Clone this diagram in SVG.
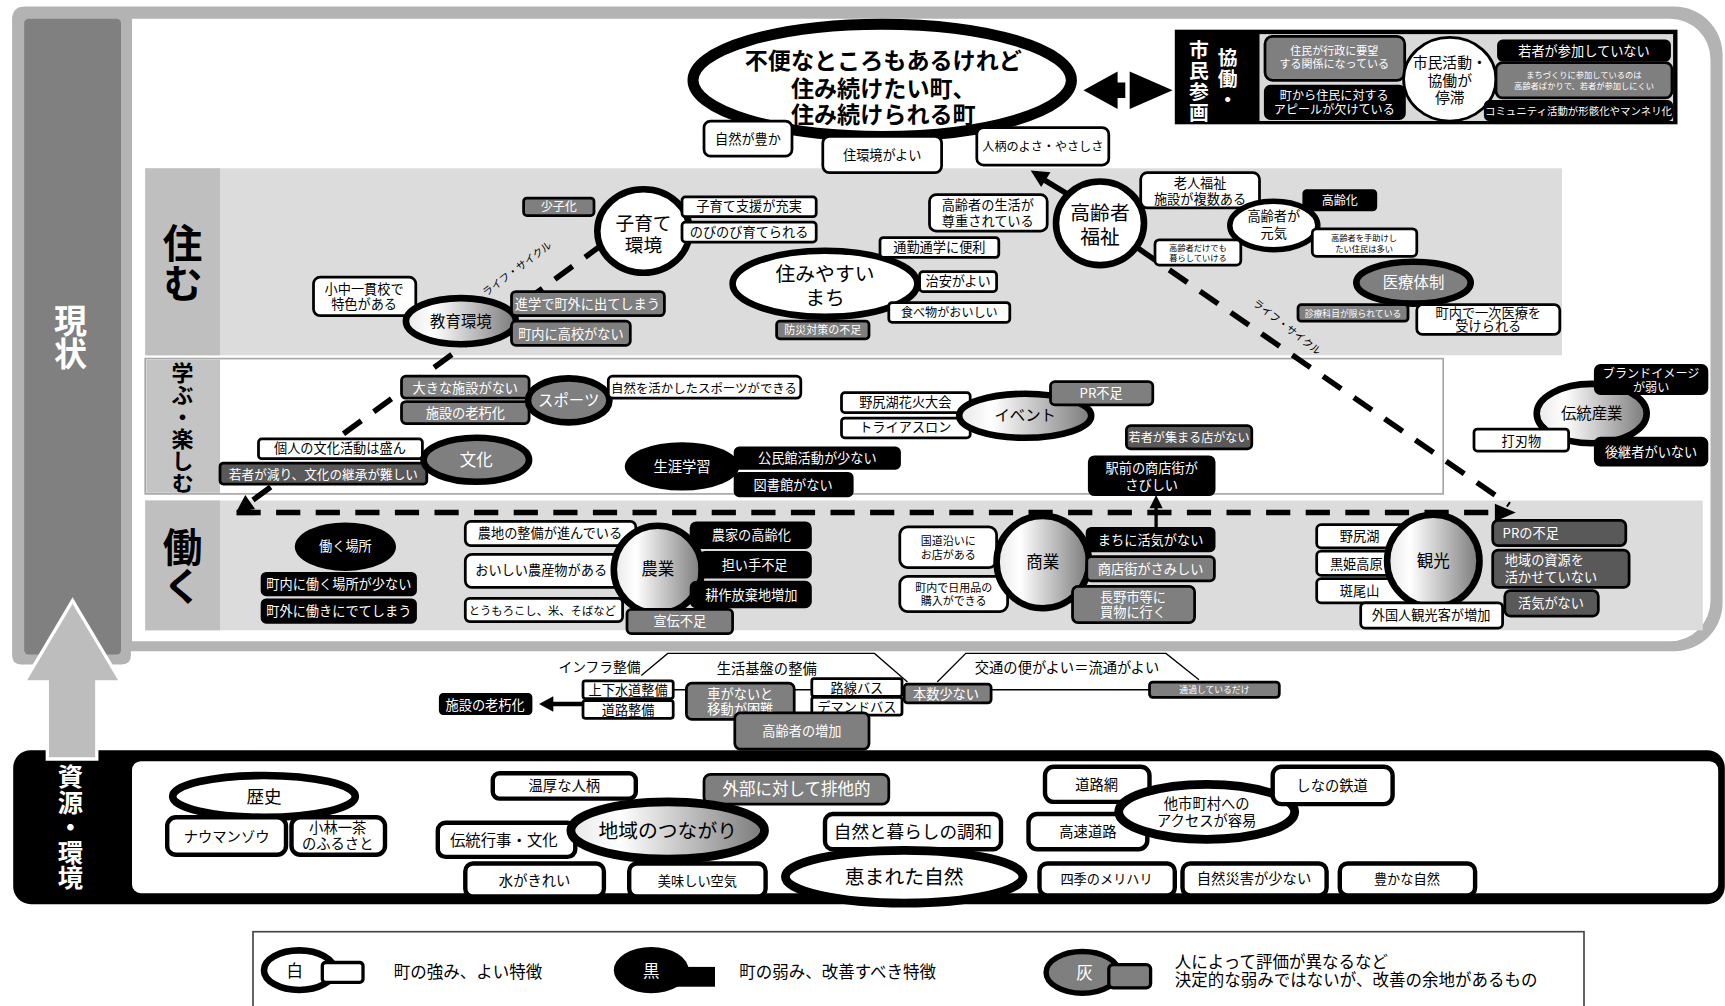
<svg xmlns="http://www.w3.org/2000/svg" width="1725" height="1006" viewBox="0 0 1725 1006">
<defs>
<style>
text{font-family:"Noto Sans CJK JP","Noto Sans",sans-serif;}
.w{fill:#fff;stroke:#000;stroke-width:2.5}
.w4{fill:#fff;stroke:#000;stroke-width:4}
.k{fill:#000;stroke:#000;stroke-width:2}
.g{fill:#7f7f7f;stroke:#000;stroke-width:2.5}
.d{fill:#595959;stroke:#000;stroke-width:2.5}
.t{fill:#000;text-anchor:middle}
.tw{fill:#fff;text-anchor:middle}
.twl{fill:#fff;text-anchor:start}
.ew{fill:#fff;stroke:#000;stroke-width:6}
.eg{fill:url(#grad);stroke:#000;stroke-width:6}
.eG{fill:#7f7f7f;stroke:#000;stroke-width:6}
.b{font-weight:bold}
.v{writing-mode:vertical-rl;text-anchor:middle}
.dash{fill:none;stroke:#000;stroke-width:5;stroke-dasharray:20 14}
</style>
<linearGradient id="grad" x1="0" y1="0" x2="1" y2="0">
<stop offset="0" stop-color="#e8e8e8"/>
<stop offset="0.25" stop-color="#ffffff"/>
<stop offset="1" stop-color="#7a7a7a"/>
</linearGradient>
</defs>
<rect width="1725" height="1006" fill="#fff"/>
<g transform="scale(1.1)">
<g id="frame">
<path d="M23,6 H1522 A44,44 0 0 1 1566,50 V548 A44,44 0 0 1 1522,592 H119 V596 Q119,604 111,604 H19 Q11,604 11,596 V18 Q11,6 23,6 Z" fill="#b3b3b3"/>
<rect x="22" y="17" width="88" height="578" rx="4" fill="#808080"/>
<path d="M120,17 H1518 A37,37 0 0 1 1555,54 V546 A37,37 0 0 1 1518,583 H120 Z" fill="#fff"/>
<text x="64" y="306" font-size="30" class="v b" fill="#fff">現状</text>
</g>
<g id="rows">
<rect x="132" y="153" width="1288" height="170" fill="#dcdcdc"/>
<rect x="132" y="153" width="68" height="170" fill="#bfbfbf"/>
<text x="166" y="239" font-size="36" class="v b" fill="#000">住む</text>
<rect x="132" y="326" width="1180" height="123" fill="#fff" stroke="#a6a6a6" stroke-width="1.5"/>
<rect x="133" y="327" width="67" height="121" fill="#c4c4c4"/>
<text x="166" y="389" font-size="20" class="v b" fill="#000">学ぶ・楽しむ</text>
<rect x="132" y="455" width="1416" height="118" fill="#dcdcdc"/>
<rect x="132" y="455" width="68" height="118" fill="#bfbfbf"/>
<text x="166" y="515" font-size="36" class="v b" fill="#000">働く</text>
</g>
<g id="resources-frame">
<rect x="12" y="682" width="1556" height="140" rx="16" fill="#000"/>
<rect x="120" y="692" width="1442" height="120" rx="8" fill="#fff"/>
<text x="64" y="752" font-size="23" class="v b" fill="#fff">資源・環境</text>
</g>
<g id="big-arrow">
<polygon points="66,546 110,620 88,620 88,690 43,690 43,620 22,620" fill="#bdbdbd" stroke="#fff" stroke-width="3"/>
</g>

<g id="connectors">
<line x1="548" y1="222" x2="228" y2="456" class="dash"/>
<polygon points="215,465 232,463 223,450" fill="#000"/>
<line x1="215" y1="466" x2="1362" y2="466" stroke="#000" stroke-width="5" stroke-dasharray="22 14"/>
<polygon points="1378,466 1359,458 1359,474" fill="#000"/>
<line x1="1035" y1="226" x2="1372" y2="459" class="dash"/>
<line x1="978" y1="181" x2="950" y2="164" stroke="#000" stroke-width="5"/>
<polygon points="937,155 955,156.5 946.5,170" fill="#000"/>
<line x1="1051" y1="481" x2="1051" y2="460" stroke="#000" stroke-width="3"/>
<polygon points="1051,450 1045,462 1057,462" fill="#000"/>
<line x1="530" y1="640" x2="500" y2="640" stroke="#000" stroke-width="4"/>
<polygon points="490,640 503,633 503,647" fill="#000"/>
<polygon points="985,82 1016,65 1016,75 1023,75 1023,89 1016,89 1016,99" fill="#000"/>
<polygon points="1066,82 1027,65 1027,99" fill="#000"/>
<polyline points="583,614 607,594 795,594 825,620" fill="none" stroke="#000" stroke-width="1.2"/>
<polyline points="852,620 878,594 1060,594 1090,618" fill="none" stroke="#000" stroke-width="1.2"/>
<line x1="612" y1="627" x2="1045" y2="627" stroke="#000" stroke-width="1.5"/>
<text transform="translate(472,247) rotate(-37)" font-size="9.5" class="t">ライフ・サイクル</text>
<text transform="translate(1168,300) rotate(38)" font-size="9.5" class="t">ライフ・サイクル</text>
</g>

<g id="goal">
<ellipse cx="802" cy="73" rx="172" ry="51" fill="#fff" stroke="#000" stroke-width="10"/>
<text x="803" y="63" font-size="21" class="t b">不便なところもあるけれど<tspan x="803" dy="25">住み続けたい町、</tspan><tspan x="803" dy="24">住み続けられる町</tspan></text>
</g>
<g id="goal-1"><rect x="640" y="110" width="80" height="32" rx="6" class="w" stroke-width="3"/><text x="680" y="131" font-size="12" class="t">自然が豊か</text></g>
<g id="goal-2"><rect x="748" y="124" width="108" height="33" rx="6" class="w" stroke-width="3"/><text x="802" y="145" font-size="12" class="t">住環境がよい</text></g>
<g id="goal-3"><rect x="888" y="116" width="120" height="34" rx="6" class="w" stroke-width="3"/><text x="948" y="137" font-size="11" class="t">人柄のよさ・やさしさ</text></g>

<g id="participation">
<rect x="1068" y="27" width="457" height="86" fill="#000"/>
<rect x="1145" y="31" width="376" height="79" fill="#d9d9d9"/>
<text x="1090" y="74" font-size="18" class="v b" fill="#fff" letter-spacing="1">市民参画</text>
<text x="1116" y="72" font-size="18" class="v b" fill="#fff" letter-spacing="1">協働・</text>
</g>
<g id="p1"><rect x="1150" y="33" width="127" height="40" rx="7" class="g" stroke-width="2"/><text x="1213" y="50" font-size="10" class="tw">住民が行政に要望<tspan x="1213" dy="12">する関係になっている</tspan></text></g>
<g id="p2"><rect x="1150" y="78" width="127" height="30" rx="5" class="k"/><text x="1213" y="91" font-size="11" class="tw">町から住民に対する<tspan x="1213" dy="13">アピールが欠けている</tspan></text></g>
<g id="p3"><ellipse cx="1318" cy="72" rx="42" ry="38" fill="#fff" stroke="#000" stroke-width="2.5"/><text x="1318" y="62" font-size="13.5" class="t">市民活動・<tspan x="1318" dy="16">協働が</tspan><tspan x="1318" dy="16">停滞</tspan></text></g>
<g id="p4"><rect x="1362" y="37" width="156" height="18" rx="4" class="k"/><text x="1440" y="51" font-size="12" class="tw">若者が参加していない</text></g>
<g id="p5"><rect x="1360" y="57" width="160" height="32" rx="6" class="g" stroke-width="2"/><text x="1440" y="71" font-size="7.5" class="tw">まちづくりに参加しているのは<tspan x="1440" dy="10">高齢者ばかりで、若者が参加しにくい</tspan></text></g>
<g id="p6"><rect x="1350" y="92" width="170" height="17" rx="4" class="k"/><text x="1435" y="104.5" font-size="9.5" class="tw">コミュニティ活動が形骸化やマンネリ化</text></g>

<g id="n-shoushika"><rect x="476" y="180" width="64" height="16" rx="3" class="g" stroke-width="2"/><text x="508" y="192" font-size="11" class="tw">少子化</text></g>
<g id="n-kosodate"><ellipse cx="585" cy="210" rx="42" ry="38" class="ew"/><text x="585" y="209" font-size="17" class="t">子育て<tspan x="585" dy="20">環境</tspan></text></g>
<g id="n-kosodate1"><rect x="620" y="179" width="122" height="18" rx="3" class="w"/><text x="681" y="192" font-size="12" class="t">子育て支援が充実</text></g>
<g id="n-kosodate2"><rect x="620" y="202" width="122" height="18" rx="3" class="w"/><text x="681" y="215" font-size="12" class="t">のびのび育てられる</text></g>
<g id="n-shochu"><rect x="285" y="252" width="93" height="35" rx="6" class="w"/><text x="331" y="267" font-size="12" class="t">小中一貫校で<tspan x="331" dy="14">特色がある</tspan></text></g>
<g id="n-kyoiku"><ellipse cx="419" cy="292" rx="50" ry="21" class="eg"/><text x="419" y="297" font-size="14" class="t">教育環境</text></g>
<g id="n-shingaku"><rect x="465" y="265" width="139" height="22" rx="4" class="g"/><text x="534" y="281" font-size="12" class="tw">進学で町外に出てしまう</text></g>
<g id="n-koukou"><rect x="465" y="292" width="108" height="22" rx="4" class="g"/><text x="519" y="308" font-size="12" class="tw">町内に高校がない</text></g>
<g id="n-sumiyasui"><ellipse cx="750" cy="258" rx="84" ry="30" class="ew"/><text x="750" y="255" font-size="18" class="t">住みやすい<tspan x="750" dy="22">まち</tspan></text></g>
<g id="n-tsukin"><rect x="800" y="216" width="108" height="18" rx="3" class="w"/><text x="854" y="229" font-size="12" class="t">通勤通学に便利</text></g>
<g id="n-chian"><rect x="836" y="247" width="70" height="18" rx="3" class="w"/><text x="871" y="260" font-size="12" class="t">治安がよい</text></g>
<g id="n-tabemono"><rect x="808" y="275" width="110" height="18" rx="3" class="w"/><text x="863" y="288" font-size="11" class="t">食べ物がおいしい</text></g>
<g id="n-bousai"><rect x="706" y="292" width="84" height="16" rx="3" class="g" stroke-width="2"/><text x="748" y="304" font-size="10" class="tw">防災対策の不足</text></g>
<g id="n-seikatsu"><rect x="845" y="177" width="107" height="33" rx="6" class="w"/><text x="898" y="191" font-size="12" class="t">高齢者の生活が<tspan x="898" dy="14">尊重されている</tspan></text></g>
<g id="n-fukushi"><ellipse cx="1000" cy="203" rx="40" ry="38" class="ew"/><text x="1000" y="200" font-size="18" class="t">高齢者<tspan x="1000" dy="22">福祉</tspan></text></g>
<g id="n-roujin"><rect x="1037" y="157" width="108" height="32" rx="6" class="w"/><text x="1091" y="171" font-size="12" class="t">老人福祉<tspan x="1091" dy="14">施設が複数ある</tspan></text></g>
<g id="n-koureika"><rect x="1185" y="173" width="66" height="18" rx="3" class="k"/><text x="1218" y="186" font-size="11" class="tw">高齢化</text></g>
<g id="n-genki"><ellipse cx="1158" cy="205" rx="40" ry="22" fill="#fff" stroke="#000" stroke-width="5"/><text x="1158" y="201" font-size="12" class="t">高齢者が<tspan x="1158" dy="15">元気</tspan></text></g>
<g id="n-dakedemo"><rect x="1050" y="218" width="78" height="23" rx="4" class="w" stroke-width="2"/><text x="1089" y="228" font-size="7.5" class="t">高齢者だけでも<tspan x="1089" dy="9">暮らしていける</tspan></text></g>
<g id="n-tedasuke"><rect x="1193" y="208" width="95" height="25" rx="4" class="w" stroke-width="2"/><text x="1240" y="219" font-size="7.5" class="t">高齢者を手助けし<tspan x="1240" dy="10">たい住民は多い</tspan></text></g>
<g id="n-iryo"><ellipse cx="1285" cy="257" rx="52" ry="19" class="eG"/><text x="1285" y="262" font-size="14" class="tw">医療体制</text></g>
<g id="n-shinryo"><rect x="1180" y="277" width="100" height="15" rx="3" class="g" stroke-width="2"/><text x="1230" y="288" font-size="8" class="tw">診療科目が限られている</text></g>
<g id="n-ichiji"><rect x="1288" y="277" width="130" height="27" rx="5" class="w"/><text x="1353" y="289" font-size="12" class="t">町内で一次医療を<tspan x="1353" dy="12">受けられる</tspan></text></g>

<g id="n-ookina"><rect x="365" y="342" width="116" height="20" rx="4" class="g"/><text x="423" y="357" font-size="12" class="tw">大きな施設がない</text></g>
<g id="n-roukyu"><rect x="365" y="365" width="116" height="20" rx="4" class="g"/><text x="423" y="380" font-size="12" class="tw">施設の老朽化</text></g>
<g id="n-sports"><ellipse cx="517" cy="364" rx="37" ry="20" class="eG"/><text x="517" y="369" font-size="14" class="tw">スポーツ</text></g>
<g id="n-shizensports"><rect x="553" y="342" width="175" height="20" rx="4" class="w"/><text x="640" y="357" font-size="11.3" class="t">自然を活かしたスポーツができる</text></g>
<g id="n-kojin"><rect x="235" y="399" width="149" height="18" rx="3" class="w"/><text x="309" y="412" font-size="12" class="t">個人の文化活動は盛ん</text></g>
<g id="n-keisho"><rect x="200" y="421" width="188" height="19" rx="3" class="d"/><text x="294" y="435" font-size="11.5" class="tw">若者が減り、文化の継承が難しい</text></g>
<g id="n-bunka"><ellipse cx="433" cy="418" rx="48" ry="20" class="eG"/><text x="433" y="424" font-size="15" class="tw">文化</text></g>
<g id="n-shogai"><ellipse cx="620" cy="424" rx="52" ry="22" fill="#000"/><text x="620" y="429" font-size="13" class="tw">生涯学習</text></g>
<g id="n-kominkan"><rect x="668" y="407" width="150" height="19" rx="4" class="k"/><text x="743" y="421" font-size="12" class="tw">公民館活動が少ない</text></g>
<g id="n-toshokan"><rect x="668" y="430" width="107" height="21" rx="4" class="k"/><text x="721" y="445" font-size="12" class="tw">図書館がない</text></g>
<g id="n-hanabi"><rect x="765" y="357" width="117" height="18" rx="3" class="w"/><text x="823" y="370" font-size="12" class="t">野尻湖花火大会</text></g>
<g id="n-triathlon"><rect x="765" y="380" width="117" height="18" rx="3" class="w"/><text x="823" y="393" font-size="12" class="t">トライアスロン</text></g>
<g id="n-event"><ellipse cx="932" cy="378" rx="60" ry="20" class="eg"/><text x="932" y="383" font-size="14" class="t">イベント</text></g>
<g id="n-prbusoku"><rect x="955" y="347" width="93" height="21" rx="4" class="g"/><text x="1001" y="362" font-size="12" class="tw">PR不足</text></g>
<g id="n-wakamise"><rect x="1024" y="387" width="114" height="21" rx="4" class="d"/><text x="1081" y="402" font-size="11" class="tw">若者が集まる店がない</text></g>
<g id="n-ekimae"><rect x="990" y="415" width="114" height="35" rx="5" class="k"/><text x="1047" y="430" font-size="12" class="tw">駅前の商店街が<tspan x="1047" dy="15">さびしい</tspan></text></g>
<g id="n-dento"><ellipse cx="1447" cy="376" rx="50" ry="27" class="eg"/><text x="1447" y="381" font-size="14" class="t">伝統産業</text></g>
<g id="n-brand"><rect x="1450" y="332" width="102" height="26" rx="5" class="k"/><text x="1501" y="344" font-size="11" class="tw">ブランドイメージ<tspan x="1501" dy="12">が弱い</tspan></text></g>
<g id="n-uchihamono"><rect x="1340" y="390" width="86" height="20" rx="3" class="w"/><text x="1383" y="405" font-size="12" class="t">打刃物</text></g>
<g id="n-koukeisha"><rect x="1450" y="398" width="102" height="25" rx="5" class="k"/><text x="1501" y="415" font-size="12" class="tw">後継者がいない</text></g>

<g id="n-hataraku"><ellipse cx="314" cy="497" rx="46" ry="22" fill="#000"/><text x="314" y="501" font-size="12" class="tw">働く場所</text></g>
<g id="n-sukunai"><rect x="238" y="521" width="140" height="20" rx="4" class="k"/><text x="308" y="535" font-size="12" class="tw">町内に働く場所が少ない</text></g>
<g id="n-machigai"><rect x="238" y="545" width="140" height="21" rx="4" class="k"/><text x="308" y="560" font-size="12" class="tw">町外に働きにでてしまう</text></g>
<g id="n-nouchi"><rect x="423" y="474" width="155" height="22" rx="5" class="w" stroke-width="3"/><text x="500" y="489" font-size="12" class="t">農地の整備が進んでいる</text></g>
<g id="n-oishii"><rect x="423" y="504" width="149" height="30" rx="6" class="w" stroke-width="3"/><text x="492" y="523" font-size="12" class="t">おいしい農産物がある</text></g>
<g id="n-tomorokoshi"><rect x="423" y="544" width="143" height="21" rx="4" class="w" stroke-width="3"/><text x="493" y="559" font-size="10.3" class="t">とうもろこし、米、そばなど</text></g>
<g id="n-nogyo"><ellipse cx="598" cy="518" rx="40" ry="40" class="eg"/><text x="598" y="523" font-size="15" class="t">農業</text></g>
<g id="n-nouka"><rect x="628" y="475" width="109" height="23" rx="5" class="k"/><text x="683" y="491" font-size="12" class="tw">農家の高齢化</text></g>
<g id="n-ninaite"><rect x="636" y="502" width="101" height="23" rx="5" class="k"/><text x="686" y="518" font-size="12" class="tw">担い手不足</text></g>
<g id="n-kousaku"><rect x="628" y="529" width="109" height="23" rx="5" class="k"/><text x="683" y="545" font-size="12" class="tw">耕作放棄地増加</text></g>
<g id="n-senden"><rect x="570" y="554" width="96" height="22" rx="4" class="g"/><text x="618" y="569" font-size="12" class="tw">宣伝不足</text></g>
<g id="n-kokudo"><rect x="818" y="479" width="88" height="37" rx="7" class="w" stroke-width="3"/><text x="862" y="495" font-size="10" class="t">国道沿いに<tspan x="862" dy="13">お店がある</tspan></text></g>
<g id="n-nichiyo"><rect x="818" y="524" width="98" height="32" rx="7" class="w" stroke-width="3"/><text x="867" y="538" font-size="10" class="t">町内で日用品の<tspan x="867" dy="12">購入ができる</tspan></text></g>
<g id="n-shogyo"><ellipse cx="948" cy="511" rx="42" ry="42" class="eg"/><text x="948" y="516" font-size="15" class="t">商業</text></g>
<g id="n-kakki"><rect x="988" y="480" width="116" height="21" rx="4" class="k"/><text x="1046" y="495" font-size="12" class="tw">まちに活気がない</text></g>
<g id="n-shotengai"><rect x="988" y="506" width="116" height="22" rx="4" class="g"/><text x="1046" y="522" font-size="12" class="tw">商店街がさみしい</text></g>
<g id="n-nagano"><rect x="975" y="533" width="111" height="33" rx="5" class="g"/><text x="1030" y="547" font-size="12" class="tw">長野市等に<tspan x="1030" dy="14">買物に行く</tspan></text></g>
<g id="n-nojiriko"><rect x="1197" y="477" width="88" height="21" rx="4" class="w" stroke-width="3"/><text x="1236" y="492" font-size="12" class="t">野尻湖</text></g>
<g id="n-kurohime"><rect x="1197" y="501" width="88" height="22" rx="4" class="w" stroke-width="3"/><text x="1233" y="517" font-size="12" class="t">黒姫高原</text></g>
<g id="n-madarao"><rect x="1197" y="526" width="88" height="22" rx="4" class="w" stroke-width="3"/><text x="1236" y="542" font-size="12" class="t">斑尾山</text></g>
<g id="n-kanko"><ellipse cx="1303" cy="510" rx="42" ry="42" class="eg"/><text x="1303" y="515" font-size="15" class="t">観光</text></g>
<g id="n-prnofusoku"><rect x="1357" y="473" width="121" height="23" rx="5" class="d" stroke-width="3"/><text x="1366" y="489" font-size="12" class="twl">PRの不足</text></g>
<g id="n-shigen"><rect x="1357" y="500" width="124" height="34" rx="5" class="d" stroke-width="3"/><text x="1368" y="514" font-size="12" class="twl">地域の資源を<tspan x="1368" dy="15">活かせていない</tspan></text></g>
<g id="n-kakki2"><rect x="1368" y="537" width="85" height="23" rx="5" class="d" stroke-width="3"/><text x="1410" y="553" font-size="12" class="tw">活気がない</text></g>
<g id="n-gaikoku"><rect x="1237" y="548" width="129" height="23" rx="4" class="w" stroke-width="3"/><text x="1301" y="564" font-size="12" class="t">外国人観光客が増加</text></g>

<g id="infra-labels">
<text x="545" y="611" font-size="12.5" class="t">インフラ整備</text>
<text x="697" y="613" font-size="13" class="t">生活基盤の整備</text>
<text x="970" y="612" font-size="13" class="t">交通の便がよい＝流通がよい</text>
</g>
<g id="i-roukyuka"><rect x="400" y="631" width="83" height="18" rx="3" class="k"/><text x="441" y="645" font-size="12" class="tw">施設の老朽化</text></g>
<g id="i-gesui"><rect x="530" y="619" width="82" height="16" rx="2" class="w" stroke-width="2"/><text x="571" y="632" font-size="12" class="t">上下水道整備</text></g>
<g id="i-doro"><rect x="530" y="637" width="82" height="16" rx="2" class="w" stroke-width="2"/><text x="571" y="650" font-size="12" class="t">道路整備</text></g>
<g id="i-kuruma"><rect x="624" y="621" width="98" height="33" rx="5" class="g" stroke-width="3"/><text x="673" y="635" font-size="12" class="tw">車がないと<tspan x="673" dy="14">移動が困難</tspan></text></g>
<g id="i-rosen"><rect x="738" y="617" width="82" height="16" rx="2" class="w" stroke-width="2"/><text x="779" y="630" font-size="12" class="t">路線バス</text></g>
<g id="i-demand"><rect x="738" y="634" width="82" height="16" rx="2" class="w" stroke-width="2"/><text x="779" y="647" font-size="12" class="t">デマンドバス</text></g>
<g id="i-koureisha"><rect x="668" y="648" width="122" height="33" rx="5" class="g" stroke-width="3"/><text x="729" y="669" font-size="12" class="tw">高齢者の増加</text></g>
<g id="i-honsu"><rect x="822" y="622" width="79" height="17" rx="3" class="g"/><text x="860" y="635" font-size="12" class="tw">本数少ない</text></g>
<g id="i-tsuka"><rect x="1045" y="620" width="118" height="14" rx="3" class="g" stroke-width="2"/><text x="1104" y="630" font-size="8" class="tw">通過しているだけ</text></g>

<g id="r-rekishi"><ellipse cx="240" cy="724" rx="83" ry="19" fill="#fff" stroke="#000" stroke-width="7"/><text x="240" y="730" font-size="16" class="t">歴史</text></g>
<g id="r-nauman"><rect x="152" y="743" width="108" height="34" rx="8" class="w4"/><text x="206" y="765" font-size="13" class="t">ナウマンゾウ</text></g>
<g id="r-issa"><rect x="265" y="743" width="85" height="34" rx="8" class="w4"/><text x="307" y="757" font-size="13" class="t">小林一茶<tspan x="307" dy="15">のふるさと</tspan></text></g>
<g id="r-onkou"><rect x="448" y="703" width="130" height="23" rx="6" class="w4"/><text x="513" y="719" font-size="13" class="t">温厚な人柄</text></g>
<g id="r-haita"><rect x="640" y="704" width="168" height="27" rx="6" class="g" stroke-width="4"/><text x="724" y="723" font-size="15" class="tw">外部に対して排他的</text></g>
<g id="r-dento"><rect x="398" y="748" width="125" height="31" rx="7" class="w4"/><text x="458" y="769" font-size="14" class="t">伝統行事・文化</text></g>
<g id="r-tsunagari"><ellipse cx="607" cy="755" rx="88" ry="26" fill="url(#grad)" stroke="#000" stroke-width="8"/><text x="607" y="762" font-size="18" class="t">地域のつながり</text></g>
<g id="r-mizu"><rect x="423" y="785" width="126" height="30" rx="7" class="w4"/><text x="486" y="805" font-size="13" class="t">水がきれい</text></g>
<g id="r-kuki"><rect x="572" y="785" width="124" height="30" rx="7" class="w4"/><text x="634" y="805" font-size="12" class="t">美味しい空気</text></g>
<g id="r-chowa"><rect x="750" y="740" width="160" height="32" rx="7" class="w4"/><text x="830" y="762" font-size="16" class="t">自然と暮らしの調和</text></g>
<g id="r-megumareta"><ellipse cx="822" cy="797" rx="108" ry="24" fill="#fff" stroke="#000" stroke-width="8"/><text x="822" y="804" font-size="18" class="t">恵まれた自然</text></g>
<g id="r-doromo"><rect x="950" y="697" width="95" height="32" rx="8" class="w4"/><text x="997" y="718" font-size="13" class="t">道路網</text></g>
<g id="r-kosoku"><rect x="935" y="740" width="108" height="32" rx="8" class="w4"/><text x="989" y="761" font-size="13" class="t">高速道路</text></g>
<g id="r-access"><ellipse cx="1097" cy="738" rx="80" ry="25" fill="#fff" stroke="#000" stroke-width="8"/><text x="1097" y="735" font-size="13" class="t">他市町村への<tspan x="1097" dy="16">アクセスが容易</tspan></text></g>
<g id="r-shinano"><rect x="1157" y="697" width="109" height="34" rx="8" class="w4"/><text x="1211" y="719" font-size="13" class="t">しなの鉄道</text></g>
<g id="r-shiki"><rect x="945" y="785" width="123" height="29" rx="7" class="w4"/><text x="1006" y="804" font-size="12" class="t">四季のメリハリ</text></g>
<g id="r-saigai"><rect x="1075" y="785" width="131" height="29" rx="7" class="w4"/><text x="1140" y="804" font-size="13" class="t">自然災害が少ない</text></g>
<g id="r-yutaka"><rect x="1218" y="785" width="123" height="29" rx="7" class="w4"/><text x="1279" y="804" font-size="12" class="t">豊かな自然</text></g>

<g id="legend">
<rect x="230" y="847" width="1210" height="90" fill="none" stroke="#444" stroke-width="1.5"/>
<ellipse cx="272" cy="882" rx="32" ry="18" fill="#fff" stroke="#000" stroke-width="6"/>
<rect x="293" y="875" width="37" height="18" rx="3" fill="#fff" stroke="#000" stroke-width="3"/>
<text x="268" y="888" font-size="15" class="t">白</text>
<text x="358" y="889" font-size="15" fill="#000">町の強み、よい特徴</text>
<ellipse cx="592" cy="882" rx="34" ry="21" fill="#000"/>
<rect x="614" y="879" width="36" height="18" fill="#000"/>
<text x="592" y="888" font-size="15" class="tw">黒</text>
<text x="672" y="889" font-size="15" fill="#000">町の弱み、改善すべき特徴</text>
<ellipse cx="984" cy="884" rx="33" ry="19" fill="#7f7f7f" stroke="#000" stroke-width="5"/>
<rect x="1008" y="877" width="38" height="21" rx="4" fill="#7f7f7f" stroke="#000" stroke-width="3"/>
<text x="986" y="890" font-size="15" class="tw">灰</text>
<text x="1068" y="880" font-size="15" fill="#000">人によって評価が異なるなど<tspan x="1068" dy="16">決定的な弱みではないが、改善の余地があるもの</tspan></text>
</g>
</g>
</svg>
